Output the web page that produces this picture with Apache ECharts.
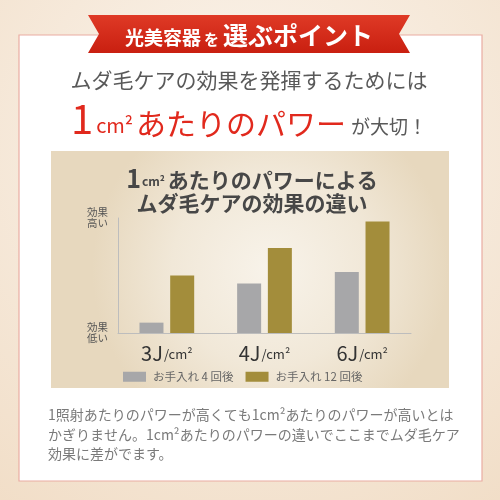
<!DOCTYPE html>
<html lang="ja">
<head>
<meta charset="UTF-8">
<title>1cm²あたりのパワー</title>
<script src="https://cdn.jsdelivr.net/npm/echarts@6/dist/echarts.min.js"></script>
<style>
  html, body { margin: 0; padding: 0; }
</style>
</head>
<body>
<div id="main" style="width: 500px;height:500px;"></div>
<script type="text/javascript">
    // データ
    var categories = ['3', '4', '6'];
    var seriesNames = ['お手入れ 4 回後', 'お手入れ 12 回後'];
    var after4 = [9, 43, 53];
    var after12 = [50, 74, 97];
    var yLabels = ['効果\n低い', '効果\n高い'];

    var FONT = '"Noto Sans CJK JP", "Noto Sans", sans-serif';
    var RED = '#e1291d';
    var GRAY_TEXT = '#595959';

    function txt(x, y, text, size, color, weight, extra) {
        var s = {
            text: text,
            x: 0, y: 0,
            fill: color,
            font: (weight || 'normal') + ' ' + size + 'px ' + FONT,
            textAlign: 'left', align: 'left',
            textVerticalAlign: 'middle', verticalAlign: 'middle'
        };
        for (var k in extra) s[k] = extra[k];
        return {type: 'text', x: x, y: y, z: 5, style: s};
    }

    var myChart = echarts.init(document.getElementById('main'));
    var option = {
        backgroundColor: {
            type: 'radial', x: 0.5, y: 0.3, r: 0.9,
            colorStops: [{offset: 0, color: '#fbf5ee'}, {offset: 1, color: '#f1ddc6'}]
        },
        graphic: [
            // 白いカード
            {
                type: 'rect', z: -10,
                shape: {x: 19, y: 35, width: 463, height: 446},
                style: {fill: '#ffffff', stroke: '#eaaca2', lineWidth: 1.2}
            },
            // リボン
            {
                type: 'polygon', z: 4,
                shape: {points: [[88, 15], [410, 15], [399, 34], [410, 53], [88, 53], [99, 34]]},
                style: {
                    fill: {
                        type: 'linear', x: 0, y: 0, x2: 0, y2: 1,
                        colorStops: [{offset: 0, color: '#df3a26'}, {offset: 1, color: '#c91f10'}]
                    }
                }
            },
            txt(249, 35, '{a|光美容器}{b|を}{c|選ぶポイント}', 19, '#fff', 'bold', {
                textAlign: 'center', align: 'center',
                rich: {
                    a: {fontSize: 19, fontWeight: 'bold', fill: '#fff', color: '#fff', fontFamily: FONT, verticalAlign: 'bottom'},
                    b: {fontSize: 15, fontWeight: 'bold', fill: '#fff', color: '#fff', fontFamily: FONT, verticalAlign: 'bottom', padding: [0, 4, 1, 3]},
                    c: {fontSize: 25, fontWeight: 'bold', fill: '#fff', color: '#fff', fontFamily: FONT, verticalAlign: 'bottom'}
                }
            }),
            // 見出し
            txt(249, 80, 'ムダ毛ケアの効果を発揮するためには', 21, GRAY_TEXT, 'normal', {textAlign: 'center', align: 'center'}),
            txt(249, 119, '{n|1}{u|cm²}{r|あたりのパワー}{g|が大切！}', 20, RED, 'normal', {
                textAlign: 'center', align: 'center',
                rich: {
                    n: {fontSize: 40, fill: RED, color: RED, fontFamily: FONT, verticalAlign: 'bottom', padding: [0, 3, 0, 0]},
                    u: {fontSize: 20, fill: RED, color: RED, fontFamily: FONT, verticalAlign: 'bottom', padding: [0, 3, 4, 0]},
                    r: {fontSize: 30, fill: RED, color: RED, fontFamily: FONT, verticalAlign: 'bottom', padding: [0, 5, 0, 0]},
                    g: {fontSize: 19, fill: GRAY_TEXT, color: GRAY_TEXT, fontFamily: FONT, verticalAlign: 'bottom', padding: [0, 0, 3, 0]}
                }
            }),
            // グラフ背景
            {
                type: 'rect', z: -9,
                shape: {x: 51, y: 151, width: 398, height: 237},
                style: {
                    fill: {
                        type: 'radial', x: 0.55, y: 0.5, r: 0.75,
                        colorStops: [{offset: 0, color: '#f8f3ea'}, {offset: 0.55, color: '#f1e8d8'}, {offset: 1, color: '#e7d8be'}]
                    }
                }
            },
            // グラフタイトル
            txt(252, 178, '{n|1}{u|cm²}{t|あたりのパワーによる}', 21, '#474747', 'bold', {
                textAlign: 'center', align: 'center',
                rich: {
                    n: {fontSize: 25, fontWeight: 'bold', fill: '#474747', color: '#474747', fontFamily: FONT, verticalAlign: 'bottom'},
                    u: {fontSize: 12, fontWeight: 'bold', fill: '#474747', color: '#474747', fontFamily: FONT, verticalAlign: 'bottom', padding: [0, 3, 3, 1]},
                    t: {fontSize: 21, fontWeight: 'bold', fill: '#474747', color: '#474747', fontFamily: FONT, verticalAlign: 'bottom'}
                }
            }),
            txt(252, 203, 'ムダ毛ケアの効果の違い', 21, '#474747', 'bold', {textAlign: 'center', align: 'center'}),
            // 説明文
            txt(48, 415, '1照射あたりのパワーが高くても1cm²あたりのパワーが高いとは', 14, '#7a7a7a', 'normal'),
            txt(48, 435, 'かぎりません。1cm²あたりのパワーの違いでここまでムダ毛ケア', 14, '#7a7a7a', 'normal'),
            txt(48, 454, '効果に差がでます。', 14, '#7a7a7a', 'normal')
        ],
        legend: {
            left: 118,
            top: 366,
            itemWidth: 23,
            itemHeight: 10,
            itemGap: 12,
            icon: 'rect',
            textStyle: {fontSize: 11.5, color: '#666', fontFamily: FONT, padding: [0, 0, 0, 2]},
            data: seriesNames
        },
        grid: {
            left: 118,
            right: 89,
            top: 218,
            bottom: 167
        },
        xAxis: {
            type: 'category',
            data: categories,
            axisLine: {lineStyle: {color: '#bdbdbd', width: 1}},
            axisTick: {show: false},
            axisLabel: {
                margin: 10,
                formatter: function (v) { return '{n|' + v + 'J}{u|/cm²}'; },
                rich: {
                    n: {fontSize: 20, color: '#333', fontFamily: FONT, verticalAlign: 'bottom'},
                    u: {fontSize: 13, color: '#333', fontFamily: FONT, verticalAlign: 'bottom', padding: [0, 0, 2, 1]}
                }
            }
        },
        yAxis: {
            type: 'value',
            min: 0,
            max: 100,
            interval: 100,
            splitLine: {show: false},
            axisTick: {show: false},
            axisLine: {show: true, lineStyle: {color: '#bdbdbd', width: 1}},
            axisLabel: {
                margin: 10,
                fontSize: 10.5,
                lineHeight: 11,
                color: '#555',
                fontFamily: FONT,
                formatter: function (v) { return v === 0 ? yLabels[0] : yLabels[1]; }
            }
        },
        series: [
            {
                name: seriesNames[0],
                type: 'bar',
                data: after4,
                barWidth: 24,
                barGap: '28%',
                itemStyle: {color: '#a7a7a9'}
            },
            {
                name: seriesNames[1],
                type: 'bar',
                data: after12,
                barWidth: 24,
                itemStyle: {color: '#a38d3b'}
            }
        ],
        animation: false
    };
    myChart.setOption(option);
</script>
</body>
</html>
